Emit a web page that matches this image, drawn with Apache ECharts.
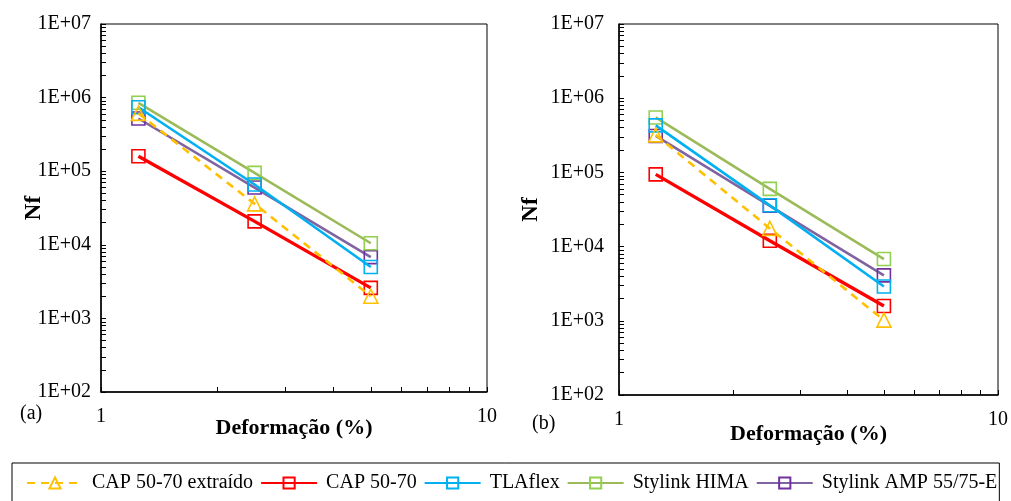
<!DOCTYPE html>
<html><head><meta charset="utf-8">
<script src="https://cdn.jsdelivr.net/npm/echarts@6/dist/echarts.min.js"></script>
<style>html,body{margin:0;padding:0;background:#fff}#c{width:1011px;height:501px}</style>
</head><body><div id="c"></div>
<script>
// ---- data ----
const strain = [1.25, 2.5, 5];
const seriesNames = ['CAP 50-70 extraído', 'CAP 50-70', 'TLAflex', 'Stylink HIMA', 'Stylink AMP 55/75-E'];
// panel (a)
const a_capExtr = [6.1e5, 3.6e4, 2.0e3];
const a_cap     = [1.6e5, 2.08e4, 2.6e3];
const a_tla     = [7.4e5, 6.6e4, 5.0e3];
const a_hima    = [8.5e5, 9.5e4, 1.05e4];
const a_amp     = [5.2e5, 6.0e4, 6.8e3];
// panel (b)
const b_capExtr = [3.2e5, 1.76e4, 1.02e3];
const b_cap     = [9.4e4, 1.2e4, 1.58e3];
const b_tla     = [4.3e5, 3.6e4, 2.9e3];
const b_hima    = [5.5e5, 6.0e4, 6.8e3];
const b_amp     = [3.1e5, 3.55e4, 4.1e3];
const xTicks = [1, 2, 3, 4, 5, 6, 7, 8, 9, 10];
const yTicks = [];
[100, 1000, 10000, 100000, 1000000].forEach(d => { for (let k = 1; k <= 9; k++) yTicks.push(d * k); });
yTicks.push(1e7);

const colors = ['#FFC000', '#FF0000', '#00B0F0', '#92D050', '#7030A0'];
const lineColors = ['#FFC000', '#FF0000', '#00B0F0', '#9BBB59', '#8064A2'];
const symbols = ['triangle', 'rect', 'rect', 'rect', 'rect'];
const FONT = 'Liberation Serif';

function mk(i, vals, idx) {
  return {
    name: seriesNames[i], type: 'line', xAxisIndex: idx, yAxisIndex: idx,
    data: strain.map((x, j) => [x, vals[j]]),
    symbol: symbols[i], symbolSize: i === 0 ? 14 : 13,
    itemStyle: { color: 'rgba(255,255,255,0)', borderColor: colors[i], borderWidth: 1.6 },
    lineStyle: { color: lineColors[i], width: i === 1 ? 3.4 : 2.6, type: i === 0 ? [8, 6] : 'solid' },
    z: 10 - i, animation: false
  };
}
const series = [];
[a_capExtr, a_cap, a_tla, a_hima, a_amp].forEach((v, i) => series.push(mk(i, v, 0)));
[b_capExtr, b_cap, b_tla, b_hima, b_amp].forEach((v, i) => series.push(mk(i, v, 1)));

function xAx(idx, gap) {
  return {
    type: 'log', logBase: 10, min: 1, max: 10, gridIndex: idx,
    name: 'Deformação (%)', nameLocation: 'middle', nameGap: gap, nameMoveOverlap: false,
    nameTextStyle: { fontFamily: FONT, fontWeight: 'bold', fontSize: 22, color: '#000' },
    axisLine: { show: true, lineStyle: { color: '#000', width: 1.5 } },
    axisTick: { show: true, inside: true, length: 5, customValues: xTicks, lineStyle: { color: '#000' } },
    axisLabel: { fontFamily: FONT, fontSize: 20, color: '#000', margin: 15, customValues: [1, 10] },
    splitLine: { show: false }
  };
}
function yAx(idx, gap, margin) {
  return {
    type: 'log', logBase: 10, min: 100, max: 1e7, gridIndex: idx,
    name: 'Nf', nameLocation: 'middle', nameGap: gap, nameMoveOverlap: false,
    nameTextStyle: { fontFamily: FONT, fontWeight: 'bold', fontSize: 23, color: '#000' },
    axisLine: { show: true, lineStyle: { color: '#000', width: 1.5 } },
    axisTick: { show: true, inside: true, length: 5, customValues: yTicks, lineStyle: { color: '#000' } },
    axisLabel: { fontFamily: FONT, fontSize: 20, color: '#000', margin: margin,
      customValues: [1e2, 1e3, 1e4, 1e5, 1e6, 1e7],
      formatter: v => '1E+' + String(Math.round(Math.log10(v))).padStart(2, '0') },
    splitLine: { show: false }
  };
}

const chart = echarts.init(document.getElementById('c'), null, { renderer: 'canvas' });
chart.setOption({
  backgroundColor: '#fff',
  animation: false,
  grid: [
    { left: 101, right: 524, top: 24, bottom: 109, show: true, borderColor: '#000', borderWidth: 1 },
    { left: 619, right: 11, top: 24, bottom: 106, show: true, borderColor: '#000', borderWidth: 1 }
  ],
  xAxis: [xAx(0, 25), xAx(1, 28)],
  yAxis: [yAx(0, 55, 10), yAx(1, 76, 15)],
  legend: {
    data: seriesNames, left: 12, top: 463, width: 980, padding: [10, 2, 10, 14],
    borderColor: '#000', borderWidth: 1, itemWidth: 56, itemHeight: 14, itemGap: 7,
    textStyle: { fontFamily: FONT, fontSize: 20, color: '#000', padding: [0, 0, 0, 4] }
  },
  graphic: [
    { type: 'text', left: 20, top: 404, style: { text: '(a)', font: '20px "Liberation Serif"', fill: '#000' } },
    { type: 'text', left: 532, top: 414, style: { text: '(b)', font: '20px "Liberation Serif"', fill: '#000' } }
  ],
  series: series
});
</script></body></html>
